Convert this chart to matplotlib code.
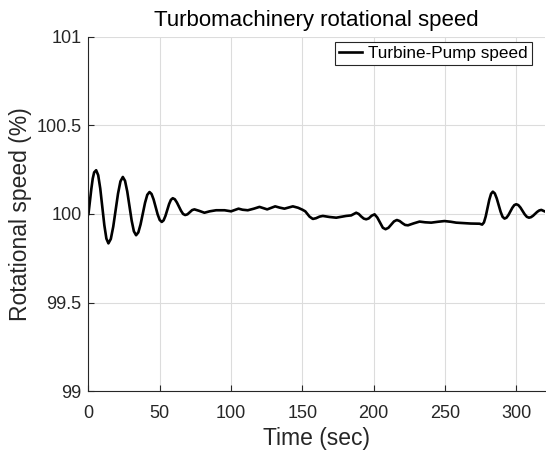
import matplotlib
matplotlib.use('Agg')
import matplotlib.pyplot as plt

# turbine-pump rotational speed
time_sec = [0, 1, 2, 3, 4, 5.4, 6.83, 8.27, 9.7, 11.13, 12.57, 14,
            15.68, 17.37, 19.05, 20.73, 22.42, 24.1,
            25.65, 27.2, 28.75, 30.3, 31.85, 33.4,
            34.97, 36.53, 38.1, 39.67, 41.23, 42.8,
            44.23, 45.67, 47.1, 48.53, 49.97, 51.4,
            52.68, 53.97, 55.25, 56.53, 57.82, 59.1,
            60.55, 62, 63.45, 64.9, 66.35, 67.8,
            69.4, 71, 72.7, 74.3, 77.5, 81.3, 85, 89.5, 95.4, 100, 105.2, 108,
            111.7, 116, 119.9, 125.3, 130.9, 134, 137.4, 143.3, 147, 150, 152,
            153.5, 155, 157.3, 159.5, 162, 164.3, 169, 173.7, 177, 180.7, 184.2,
            186, 187.7, 189.5, 191.2, 193, 194.7, 196.5, 198.5, 200.6,
            202.5, 204.5, 206.4, 208.3, 210.3, 212.2, 214.2, 216.2, 218.2, 220.1,
            222, 224, 228, 232.1, 236, 240.3, 245, 249.6, 254, 257.8, 262, 268,
            274.2, 276, 277.25, 278.5, 279.75, 281, 282.25, 283.5,
            284.87, 286.23, 287.6, 288.97, 290.33, 291.7,
            293.07, 294.43, 295.8, 297.17, 298.53, 299.9,
            301.38, 302.87, 304.35, 305.83, 307.32, 308.8,
            310.25, 311.7, 313.15, 314.6, 316.05, 317.5, 320]
speed_pct = [100.0, 100.07, 100.14, 100.2, 100.235, 100.247, 100.219, 100.144,
             100.04, 99.937, 99.861, 99.834,
             99.859, 99.928, 100.02, 100.115, 100.184, 100.209,
             100.187, 100.127, 100.045, 99.962, 99.902, 99.88,
             99.896, 99.941, 100.002, 100.063, 100.108, 100.124,
             100.113, 100.082, 100.04, 99.997, 99.966, 99.955,
             99.964, 99.989, 100.022, 100.056, 100.08, 100.089,
             100.083, 100.065, 100.042, 100.018, 100.0, 99.994,
             99.998, 100.01, 100.022, 100.026, 100.018, 100.007, 100.015, 100.021,
             100.021, 100.015, 100.03, 100.024, 100.021, 100.03, 100.04, 100.026,
             100.043, 100.036, 100.03, 100.043, 100.035, 100.024, 100.015,
             100.0, 99.985, 99.972, 99.976, 99.985, 99.989, 99.983, 99.979, 99.984,
             99.989, 99.992,
             100.0, 100.007, 100.0, 99.986, 99.974, 99.970, 99.975, 99.99, 99.998,
             99.98, 99.95, 99.922, 99.914, 99.922, 99.94, 99.958, 99.966, 99.96,
             99.948, 99.938, 99.936, 99.947, 99.957, 99.953, 99.951, 99.956,
             99.96, 99.956, 99.951, 99.949, 99.946,
             99.945, 99.94, 99.952, 99.986, 100.033, 100.08, 100.114, 100.126,
             100.116, 100.088, 100.05, 100.012, 99.984, 99.974,
             99.979, 99.994, 100.015, 100.035, 100.05, 100.055,
             100.05, 100.036, 100.017, 99.998, 99.984, 99.979,
             99.982, 99.99, 100.001, 100.012, 100.02, 100.023, 100.014]

x_ticks = [0, 50, 100, 150, 200, 250, 300]
y_ticks = [99, 99.5, 100, 100.5, 101]
y_ticklabels = ['99', '99.5', '100', '100.5', '101']

plt.rcParams['font.family'] = ['Liberation Sans', 'DejaVu Sans']

fig = plt.figure(figsize=(5.46, 4.5), dpi=100)
ax = fig.add_axes([0.162, 0.131, 0.836, 0.787])

ax.plot(time_sec, speed_pct, color='black', lw=1.9, label='Turbine-Pump speed')

ax.set_xlim(0, 320)
ax.set_ylim(99, 101)
ax.set_xticks(x_ticks)
ax.set_yticks(y_ticks)
ax.set_yticklabels(y_ticklabels)
ax.grid(True, color='#dcdcdc', lw=0.8)
ax.set_axisbelow(True)

for side in ['top', 'right']:
    ax.spines[side].set_visible(False)
for side in ['left', 'bottom']:
    ax.spines[side].set_color('#262626')
    ax.spines[side].set_linewidth(0.8)
ax.tick_params(direction='in', length=4, width=0.8, colors='#262626',
               labelsize=13)
ax.tick_params(axis='y', pad=5)
ax.tick_params(axis='x', pad=10)

ax.set_title('Turbomachinery rotational speed', fontsize=16, color='black', pad=8)
ax.set_xlabel('Time (sec)', fontsize=16.5, color='#262626', labelpad=3.5)
ax.set_ylabel('Rotational speed (%)', fontsize=16.5, color='#262626', labelpad=3)

leg = ax.legend(loc='upper right', bbox_to_anchor=(0.972, 0.986), fontsize=12.3,
                fancybox=False, framealpha=1, edgecolor='#262626', borderpad=0.25,
                handlelength=1.35, handletextpad=0.35, borderaxespad=0)
leg.get_frame().set_linewidth(0.8)

fig.savefig('out.png', dpi=100)
